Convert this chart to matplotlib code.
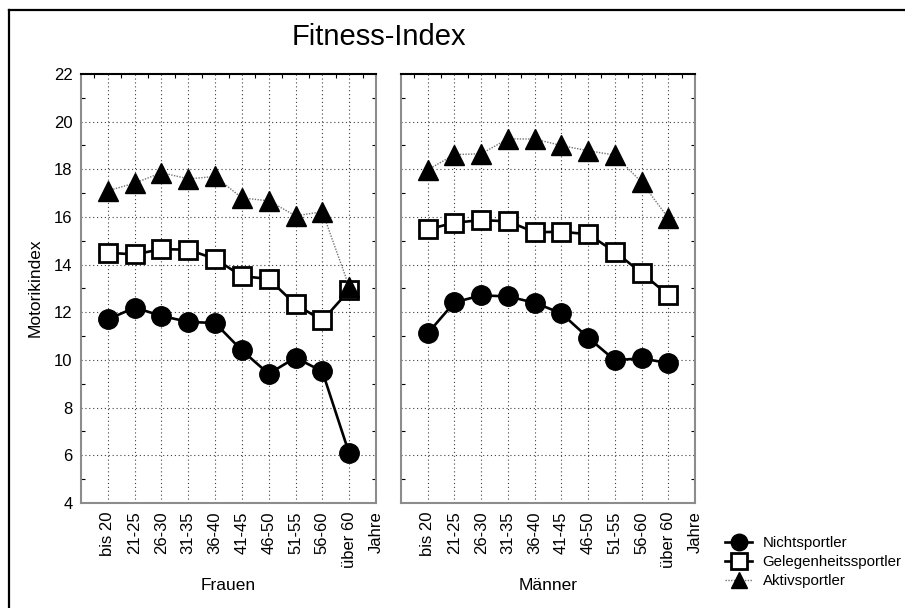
# Fitness-Index: Motorikindex nach Altersgruppe, Geschlecht und Sportaktivität
from matplotlib import pyplot as plt
from matplotlib.lines import Line2D
from matplotlib.ticker import FixedLocator
import numpy as np

plt.rcParams['font.family'] = ['Liberation Sans', 'DejaVu Sans']

# Daten
altersgruppen = ['bis 20', '21-25', '26-30', '31-35', '36-40',
                 '41-45', '46-50', '51-55', '56-60', 'über 60', 'Jahre']

frauen_nicht = [11.7, 12.2, 11.85, 11.6, 11.55, 10.4, 9.42, 10.1, 9.52, 6.08]
frauen_gelegen = [14.5, 14.43, 14.65, 14.63, 14.24, 13.52, 13.4, 12.33, 11.66, 12.92]
frauen_aktiv = [17.1, 17.42, 17.86, 17.6, 17.7, 16.8, 16.68, 16.05, 16.22, 13.08]

maenner_nicht = [11.12, 12.42, 12.71, 12.67, 12.4, 11.96, 10.94, 9.99, 10.07, 9.87]
maenner_gelegen = [15.48, 15.76, 15.87, 15.82, 15.36, 15.38, 15.28, 14.54, 13.66, 12.72]
maenner_aktiv = [17.98, 18.62, 18.65, 19.28, 19.27, 19.0, 18.78, 18.6, 17.46, 15.96]

serien = ['Nichtsportler', 'Gelegenheitssportler', 'Aktivsportler']

W, H = 905, 608
fig = plt.figure(figsize=(W / 100, H / 100), dpi=100)


def fx(px):
    return px / W


def fy(py):
    return 1 - py / H


def plot_panel(ax, nicht, gelegen, aktiv, titel, links):
    x = np.arange(len(nicht))
    l1, = ax.plot(x, nicht, color='black', lw=1.9, marker='o', ms=14,
                  mfc='black', mec='black', zorder=4)
    l2, = ax.plot(x, gelegen, color='black', lw=1.9, marker='s', ms=13.5,
                  mfc='white', mec='black', mew=2.0, zorder=5)
    l3, = ax.plot(x, aktiv, color='0.45', lw=1.0, ls=(0, (1, 1)), marker='^',
                  ms=14, mfc='black', mec='black', zorder=6)

    ax.set_xlim(-1, 10)
    ax.set_ylim(4, 22)
    ax.set_xticks(np.arange(len(altersgruppen)))
    ax.set_xticklabels(altersgruppen, rotation=90, fontsize=12)
    ax.set_yticks(np.arange(4, 23, 2))
    if links:
        ax.set_yticklabels([str(v) for v in range(4, 23, 2)], fontsize=12)
    else:
        ax.set_yticklabels([])
    ax.tick_params(axis='both', which='major', length=0, pad=6)

    # kleine Striche innen
    ax.yaxis.set_minor_locator(FixedLocator(np.arange(5, 22, 2)))
    ax.xaxis.set_minor_locator(FixedLocator(np.arange(-0.5, 10, 1)))
    ax.tick_params(axis='y', which='minor', direction='in', length=3,
                   left=True, right=True, color='black', width=0.8)
    ax.tick_params(axis='x', which='minor', direction='in', length=3,
                   bottom=False, top=True, color='black', width=0.8)

    # Gitter
    for xi in range(len(nicht)):
        ax.axvline(xi, color='0.25', lw=0.8, ls=(0, (1, 2.5)), zorder=1)
    for yi in range(6, 22, 2):
        ax.axhline(yi, color='0.25', lw=0.8, ls=(0, (1, 2.5)), zorder=1)

    for s in ['left', 'right', 'bottom']:
        ax.spines[s].set_color('0.55')
        ax.spines[s].set_linewidth(1.5)
    ax.spines['top'].set_color('black')
    ax.spines['top'].set_linewidth(1.5)

    pos = ax.get_position()
    fig.text(pos.x0 + pos.width / 2, fy(585), titel, ha='center', va='center',
             fontsize=12.5)
    return [l1, l2, l3]


ax1 = fig.add_axes([fx(81), fy(503), fx(295), (503 - 74) / H])
ax2 = fig.add_axes([fx(401), fy(503), fx(294), (503 - 74) / H])

handles = plot_panel(ax1, frauen_nicht, frauen_gelegen, frauen_aktiv, 'Frauen', True)
plot_panel(ax2, maenner_nicht, maenner_gelegen, maenner_aktiv, 'Männer', False)

fig.text(fx(379), fy(37), 'Fitness-Index', ha='center', va='center', fontsize=21)
fig.text(fx(35), fy(288), 'Motorikindex', ha='center', va='center',
         rotation=90, fontsize=12.5)

fig.legend(handles, serien, loc='center left',
           bbox_to_anchor=(fx(725), fy(562)), frameon=False, fontsize=10.8,
           handlelength=1.8, handletextpad=0.7, labelspacing=0.32,
           markerscale=0.85, borderpad=0, borderaxespad=0)

# Rahmen (nur links und oben sichtbar)
fig.add_artist(Line2D([fx(8.5), fx(8.5)], [0, fy(9.5)], color='black', lw=1.6,
                      transform=fig.transFigure))
fig.add_artist(Line2D([fx(8.5), 1], [fy(9.5), fy(9.5)], color='black', lw=1.6,
                      transform=fig.transFigure))

fig.savefig('out.png', dpi=100)
